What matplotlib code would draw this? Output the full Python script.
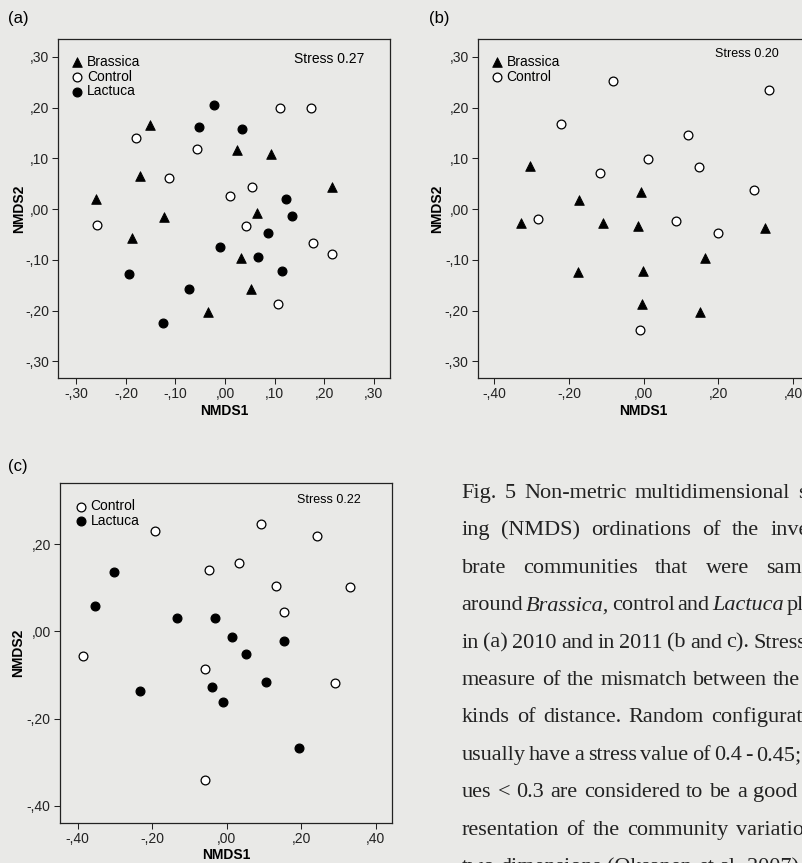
import matplotlib
matplotlib.use("Agg")
import matplotlib.pyplot as plt
from matplotlib.transforms import IdentityTransform

plt.rcParams["font.family"] = ["Liberation Sans", "DejaVu Sans"]

# (a) 2010 : Brassica, Control, Lactuca
a_bra_x = [-0.151, 0.024, 0.093, -0.172, -0.260, 0.215, 0.065, -0.124, -0.188, 0.032, 0.052, -0.034]
a_bra_y = [0.165, 0.116, 0.109, 0.066, 0.020, 0.043, -0.007, -0.016, -0.058, -0.097, -0.158, -0.202]
a_con_x = [0.112, 0.174, -0.180, -0.057, -0.114, 0.054, 0.011, -0.258, 0.042, 0.178, 0.215, 0.106]
a_con_y = [0.200, 0.200, 0.140, 0.119, 0.062, 0.043, 0.026, -0.031, -0.033, -0.067, -0.088, -0.187]
a_lac_x = [-0.023, -0.052, 0.034, 0.124, 0.135, 0.086, -0.011, 0.067, 0.116, -0.194, -0.073, -0.126]
a_lac_y = [0.204, 0.161, 0.158, 0.019, -0.014, -0.048, -0.075, -0.094, -0.123, -0.129, -0.157, -0.224]

# (b) 2011 : Brassica, Control
b_bra_x = [-0.303, -0.174, -0.008, -0.328, -0.109, -0.016, 0.325, 0.165, -0.176, -0.001, -0.004, 0.151]
b_bra_y = [0.085, 0.017, 0.034, -0.027, -0.028, -0.034, -0.037, -0.096, -0.124, -0.123, -0.188, -0.202]
b_con_x = [-0.083, 0.335, -0.222, 0.119, 0.012, -0.118, 0.148, 0.296, -0.282, 0.087, 0.198, -0.009]
b_con_y = [0.252, 0.234, 0.168, 0.146, 0.098, 0.070, 0.083, 0.038, -0.020, -0.023, -0.047, -0.238]

# (c) 2011 : Control, Lactuca
c_con_x = [0.092, -0.192, 0.244, 0.034, -0.048, 0.132, 0.331, 0.154, -0.385, -0.059, 0.291, -0.057]
c_con_y = [0.247, 0.230, 0.220, 0.157, 0.140, 0.105, 0.103, 0.045, -0.057, -0.086, -0.118, -0.341]
c_lac_x = [-0.303, -0.353, -0.132, -0.030, 0.015, 0.155, 0.052, -0.233, -0.039, 0.105, -0.009, 0.194]
c_lac_y = [0.136, 0.058, 0.031, 0.030, -0.012, -0.023, -0.051, -0.137, -0.128, -0.117, -0.161, -0.267]

ticks3 = [-0.3, -0.2, -0.1, 0.0, 0.1, 0.2, 0.3]
ticks3_lab = ["-,30", "-,20", "-,10", ",00", ",10", ",20", ",30"]
ticks4 = [-0.4, -0.2, 0.0, 0.2, 0.4]
ticks4_lab = ["-,40", "-,20", ",00", ",20", ",40"]
ticks4c = [-0.4, -0.2, 0.0, 0.2]
ticks4c_lab = ["-,40", "-,20", ",00", ",20"]

caption = [
    "Fig. 5 Non-metric multidimensional scal-",
    "ing (NMDS) ordinations of the inverte-",
    "brate communities that were sampled",
    "around Brassica, control and Lactuca plants",
    "in (a) 2010 and in 2011 (b and c). Stress is a",
    "measure of the mismatch between the two",
    "kinds of distance. Random configurations",
    "usually have a stress value of 0.4 - 0.45; val-",
    "ues < 0.3 are considered to be a good rep-",
    "resentation of the community variation in",
    "two dimensions (Oksanen et al. 2007).",
]

bg = "#e9e9e7"
W, H = 803, 863
fig = plt.figure(figsize=(W / 100, H / 100), dpi=100, facecolor=bg)

ax_a = fig.add_axes([58 / W, 1 - 378 / H, 332 / W, 339 / H])
ax_b = fig.add_axes([477.7 / W, 1 - 378 / H, 332 / W, 339 / H])
ax_c = fig.add_axes([59.7 / W, 1 - 822.7 / H, 332.6 / W, 339.4 / H])


def groups(ax, kind, x, y, label):
    if kind == "bra":
        ax.scatter(x, y, marker="^", s=48, c="black", edgecolors="black", linewidths=0.6, label=label, zorder=3)
    elif kind == "con":
        ax.scatter(x, y, marker="o", s=40, c="white", edgecolors="black", linewidths=0.9, label=label, zorder=3)
    else:
        ax.scatter(x, y, marker="o", s=40, c="black", edgecolors="black", linewidths=0.9, label=label, zorder=3)


def style(ax, xt, xl, yt, yl, xlim, ylim, ylab_x, legx, stress, sx, sy, ssize):
    ax.set_facecolor(bg)
    ax.set_xticks(xt)
    ax.set_xticklabels(xl)
    ax.set_yticks(yt)
    ax.set_yticklabels(yl)
    ax.set_xlim(xlim)
    ax.set_ylim(ylim)
    ax.tick_params(direction="out", length=4, width=0.75, pad=2.5, labelsize=10, colors="#222222")
    for s in ax.spines.values():
        s.set_linewidth(0.9)
        s.set_color("#222222")
    ax.set_xlabel("NMDS1", fontsize=10, fontweight="bold")
    ax.set_ylabel("NMDS2", fontsize=10, fontweight="bold")
    ax.xaxis.set_label_coords(0.5, -0.096)
    ax.xaxis.label.set_va("center")
    ax.yaxis.set_label_coords(ylab_x, 0.5)
    ax.yaxis.label.set_va("center")
    ax.legend(loc="upper left", bbox_to_anchor=(legx, 0.953), frameon=False, fontsize=10,
              handlelength=0.8, handletextpad=0.3, labelspacing=0.05, borderpad=0,
              borderaxespad=0)
    ax.text(sx, sy, stress, transform=ax.transAxes, ha="right", va="center", fontsize=ssize)


groups(ax_a, "bra", a_bra_x, a_bra_y, "Brassica")
groups(ax_a, "con", a_con_x, a_con_y, "Control")
groups(ax_a, "lac", a_lac_x, a_lac_y, "Lactuca")
style(ax_a, ticks3, ticks3_lab, ticks3, ticks3_lab, (-0.337, 0.333), (-0.333, 0.335),
      -0.1166, 0.041, "Stress 0.27", 0.922, 0.941, 10)

groups(ax_b, "bra", b_bra_x, b_bra_y, "Brassica")
groups(ax_b, "con", b_con_x, b_con_y, "Control")
style(ax_b, ticks4, ticks4_lab, ticks3, ticks3_lab, (-0.444, 0.444), (-0.333, 0.335),
      -0.1235, 0.041, "Stress 0.20", 0.907, 0.956, 9)

groups(ax_c, "con", c_con_x, c_con_y, "Control")
groups(ax_c, "lac", c_lac_x, c_lac_y, "Lactuca")
style(ax_c, ticks4, ticks4_lab, ticks4c, ticks4c_lab, (-0.448, 0.445), (-0.439, 0.34),
      -0.1245, 0.047, "Stress 0.22", 0.906, 0.951, 9)

fig.text(8.3 / W, 1 - 18 / H, "(a)", fontsize=12, va="center")
fig.text(429.3 / W, 1 - 18 / H, "(b)", fontsize=12, va="center")
fig.text(8.3 / W, 1 - 466.7 / H, "(c)", fontsize=12, va="center")

# caption, justified word by word (cut off at the right edge like the page scan)
cap_font = ["Liberation Serif", "DejaVu Serif"]
italic_words = ["Brassica", "Lactuca"]
x0, col_w = 461.7, 378
r = fig.canvas.get_renderer()


def width(txt, st):
    t = fig.text(0, 0, txt, family=cap_font, style=st, fontsize=16)
    w = t.get_window_extent(r).width
    t.remove()
    return w


space_w = width("n n", "normal") - width("nn", "normal")
for i, line in enumerate(caption):
    yb = H - (498 + 37.4 * i)
    words = line.split(" ")
    styles = ["italic" if w.rstrip(",.") in italic_words else "normal" for w in words]
    wlen = [width(w, s) for w, s in zip(words, styles)]
    if i < len(caption) - 1:
        gap = (col_w - sum(wlen)) / (len(words) - 1)
    else:
        gap = space_w
    x = x0
    for w, s, wl in zip(words, styles, wlen):
        if x < W:
            fig.text(x, yb, w, family=cap_font, style=s, fontsize=16, color="#222222",
                     transform=IdentityTransform(), va="baseline")
        x += wl + gap

fig.savefig("out.png", dpi=100, facecolor=bg)
